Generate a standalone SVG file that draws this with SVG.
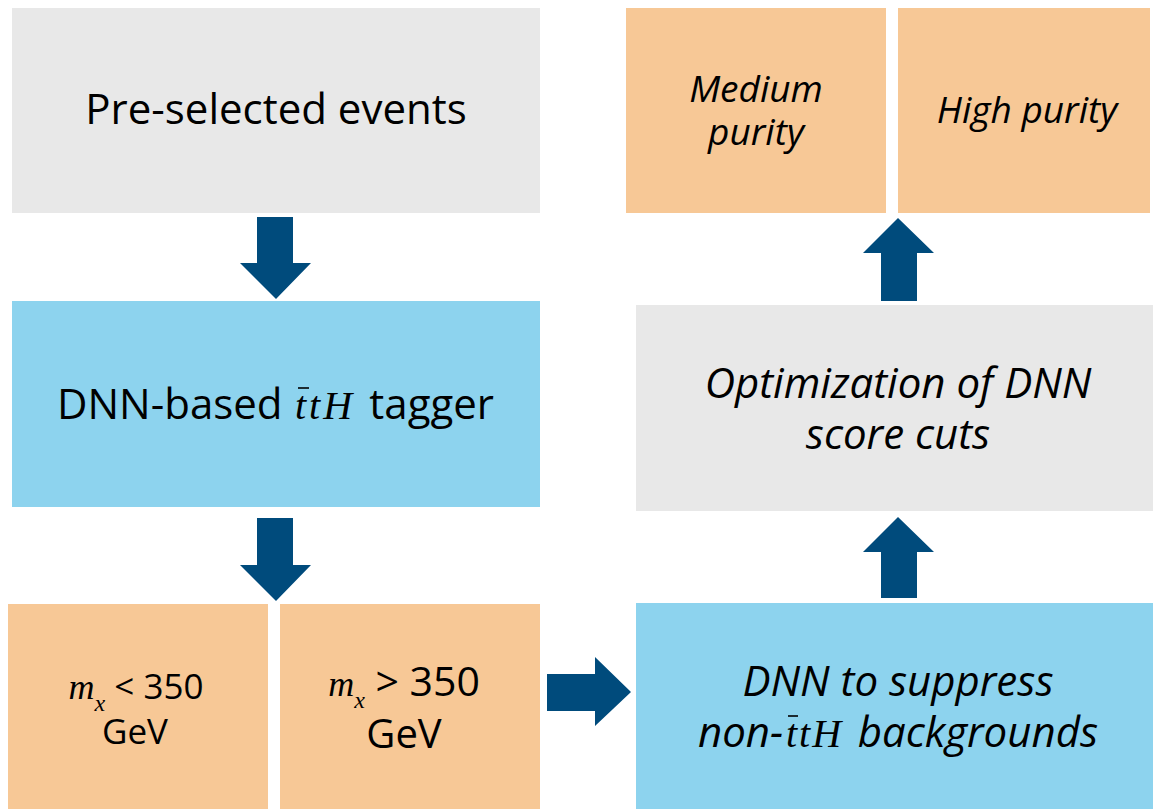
<svg xmlns="http://www.w3.org/2000/svg" width="1153" height="809" viewBox="0 0 1153 809">
<style>
.grey{fill:#e8e8e8}
.blue{fill:#8dd3ee}
.orange{fill:#f7c896}
.arrow{fill:#004b7c}
text{font-family:"Open Sans","DejaVu Sans",sans-serif;fill:#000;text-anchor:middle}
.st{text-anchor:start}
.en{text-anchor:end}
.it{font-style:italic}
.math{font-family:"Liberation Serif","DejaVu Serif",serif;font-style:italic}
.bar{stroke:#000;stroke-width:1.6}
</style>
<rect width="1153" height="809" fill="#fff"/>
<g id="preselected">
<rect class="grey" x="12" y="8" width="528" height="205"/>
<text x="276" y="124" font-size="42">Pre-selected events</text>
</g>
<g id="tagger">
<rect class="blue" x="12" y="301" width="528" height="206"/>
<text class="st" x="57" y="419" font-size="42">DNN-based</text>
<text class="st math" x="295" y="419" font-size="40" letter-spacing="3">ttH</text>
<text class="en" x="494" y="419" font-size="42">tagger</text>
<line class="bar" x1="298" y1="388" x2="309" y2="388"/>
</g>
<g id="mlow">
<rect class="orange" x="8" y="604" width="260" height="205"/>
<text x="136" y="699" font-size="35"><tspan class="math" font-size="36">m</tspan><tspan class="math" font-size="24" dy="12">x</tspan><tspan dy="-12"> &lt; 350</tspan></text>
<text x="135" y="744" font-size="35">GeV</text>
</g>
<g id="mhigh">
<rect class="orange" x="280" y="604" width="260" height="205"/>
<text x="404" y="696" font-size="41"><tspan class="math" font-size="36">m</tspan><tspan class="math" font-size="24" dy="12">x</tspan><tspan dy="-12"> &gt; 350</tspan></text>
<text x="404" y="748" font-size="40">GeV</text>
</g>
<g id="suppress">
<rect class="blue" x="636" y="603" width="517" height="206"/>
<text class="it" x="898" y="696" font-size="42">DNN to suppress</text>
<text class="st it" x="698" y="747" font-size="42">non-</text>
<text class="st math" x="786" y="747" font-size="40" letter-spacing="2">ttH</text>
<text class="en it" x="1098" y="747" font-size="42">backgrounds</text>
<line class="bar" x1="788" y1="716" x2="798" y2="716"/>
</g>
<g id="optimization">
<rect class="grey" x="636" y="305" width="517" height="206"/>
<text class="it" x="898" y="398" font-size="42">Optimization of DNN</text>
<text class="it" x="898" y="449" font-size="42">score cuts</text>
</g>
<g id="medium">
<rect class="orange" x="626" y="8" width="260" height="205"/>
<text class="it" x="756" y="102" font-size="37">Medium</text>
<text class="it" x="756" y="145" font-size="37">purity</text>
</g>
<g id="high">
<rect class="orange" x="898" y="8" width="252" height="205"/>
<text class="it" x="1027" y="123" font-size="37">High purity</text>
</g>
<g id="connectors">
<polygon class="arrow" points="257,217 293,217 293,263 311,263 276,299 240,263 257,263"/>
<polygon class="arrow" points="257,518 293,518 293,565 311,565 276,601 240,565 257,565"/>
<polygon class="arrow" points="547,674 595,674 595,657 631,692 595,726 595,711 547,711"/>
<polygon class="arrow" points="881,301 917,301 917,253 934,253 898,218 863,253 881,253"/>
<polygon class="arrow" points="881,598 917,598 917,552 934,552 898,517 863,552 881,552"/>
</g>
</svg>
